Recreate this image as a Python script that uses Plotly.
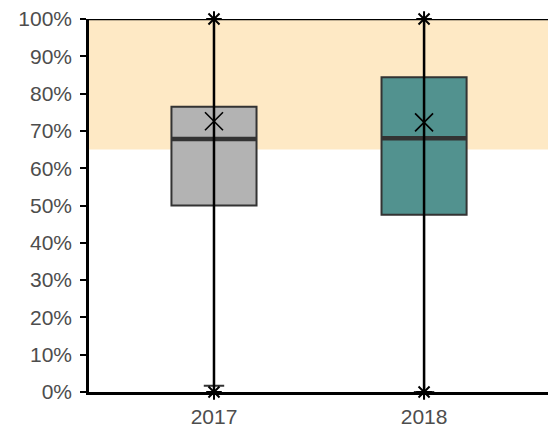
import plotly.graph_objects as go

# Yearly distribution summary (percent)
years = ["2017", "2018"]
q1 = [50.0, 47.5]
median = [67.8, 68.0]
q3 = [76.5, 84.4]
means = [72.6, 72.3]
whisker_low = [1.7, 0.0]
whisker_high = [100.0, 100.0]
range_min = [0.0, 0.0]
range_max = [100.0, 100.0]
fills = ["#B3B3B3", "#52928F"]

# Target band
band_low, band_high = 65.0, 100.0

y_ticks = list(range(0, 101, 10))
y_tick_text = [f"{v}%" for v in y_ticks]

fig = go.Figure()

for i, yr in enumerate(years):
    fig.add_trace(go.Box(
        x=[yr], q1=[q1[i]], median=[median[i]], q3=[q3[i]],
        lowerfence=[whisker_low[i]], upperfence=[whisker_high[i]],
        width=0.405, whiskerwidth=0.24, fillcolor=fills[i],
        line=dict(color="#333333", width=2), boxpoints=False,
        showlegend=False, hoverinfo="skip",
    ))
    # thick median bar
    fig.add_trace(go.Box(
        x=[yr], q1=[median[i]], median=[median[i]], q3=[median[i]],
        lowerfence=[median[i]], upperfence=[median[i]],
        width=0.405, whiskerwidth=0, fillcolor="rgba(0,0,0,0)",
        line=dict(color="#333333", width=4.5), boxpoints=False,
        showlegend=False, hoverinfo="skip",
    ))
    # full range line with end markers
    fig.add_trace(go.Scatter(
        x=[yr, yr], y=[range_min[i], range_max[i]], mode="lines+markers",
        line=dict(color="black", width=2.5),
        marker=dict(symbol="asterisk-open", size=13, color="black",
                    line=dict(color="black", width=2)),
        showlegend=False, hoverinfo="skip", cliponaxis=False,
    ))

fig.add_trace(go.Scatter(
    x=years, y=means, mode="markers",
    marker=dict(symbol="x-thin-open", size=18, color="black",
                line=dict(color="black", width=1.6)),
    showlegend=False, hoverinfo="skip",
))

fig.add_shape(type="rect", xref="paper", yref="y", x0=0, x1=1,
              y0=band_low, y1=band_high, fillcolor="#FEE9C5",
              line=dict(width=0), layer="below")
# top frame line
fig.add_shape(type="line", xref="paper", yref="y", x0=0, x1=1,
              y0=100, y1=100, line=dict(color="black", width=2.5))

fig.update_layout(
    width=548, height=428,
    margin=dict(l=89, r=0, t=19, b=34),
    paper_bgcolor="white", plot_bgcolor="white",
    boxmode="overlay",
    font=dict(family="Liberation Sans, Arial, sans-serif", size=21, color="#4D4D4D"),
    xaxis=dict(type="category", categoryorder="array", categoryarray=years,
               range=[-0.595, 1.59], showgrid=False, zeroline=False,
               showline=True, linecolor="black", linewidth=2.5,
               ticks="outside", ticklen=4, tickcolor="black", tickwidth=1.5,
               ticklabelstandoff=0,
               tickfont=dict(size=21, color="#4D4D4D")),
    yaxis=dict(range=[0, 100], tickvals=y_ticks, ticktext=y_tick_text,
               showgrid=False, zeroline=False, showline=True,
               linecolor="black", linewidth=2.5, ticks="outside",
               ticklen=6, tickcolor="black", tickwidth=1.5,
               ticklabelstandoff=4,
               tickfont=dict(size=21, color="#4D4D4D")),
)

fig.write_html("out.html")
